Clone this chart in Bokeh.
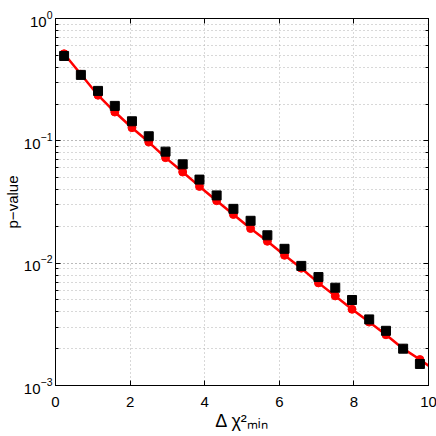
from bokeh.plotting import figure
from bokeh.models import LinearAxis, LogAxis, FixedTicker, LogTicker
from bokeh.embed import file_html
from bokeh.resources import INLINE

# Data
x_bins = [0.23, 0.68, 1.14, 1.59, 2.05, 2.50, 2.95, 3.41, 3.86, 4.32, 4.77,
          5.23, 5.68, 6.14, 6.59, 7.05, 7.50, 7.95, 8.41, 8.86, 9.32, 9.77]
p_black = [0.494, 0.346, 0.256, 0.193, 0.1445, 0.109, 0.0816, 0.0643, 0.0482,
           0.0358, 0.0278, 0.0222, 0.0169, 0.0131, 0.0095, 0.0077, 0.0063,
           0.0050, 0.00347, 0.00280, 0.00200, 0.00150]
p_red = [0.515, 0.350, 0.236, 0.172, 0.128, 0.0977, 0.0729, 0.0556, 0.0424,
         0.0324, 0.0250, 0.0192, 0.0151, 0.0116, 0.0091, 0.0069, 0.0054,
         0.0042, 0.0033, 0.0026, 0.0020, 0.00163]
x_end = [10.0]
p_end = [0.00145]
x_ticks = [0, 2, 4, 6, 8, 10]

FONT = "Liberation Sans"
GRID = "#b0b0b0"

p = figure(frame_width=373, frame_height=367, y_axis_type="log",
           x_range=(0, 10), y_range=(1e-3, 1),
           output_backend="svg", toolbar_location=None,
           min_border_left=50, min_border_right=10,
           min_border_top=18, min_border_bottom=48)
p.background_fill_color = "white"
p.border_fill_color = "white"
p.outline_line_color = "black"
p.outline_line_width = 1

# main axes
p.xaxis.ticker = FixedTicker(ticks=x_ticks)
for ax in (p.xaxis[0], p.yaxis[0]):
    ax.major_tick_in = 5
    ax.major_tick_out = 0
    ax.minor_tick_in = 3
    ax.minor_tick_out = 0
    ax.axis_line_color = "black"
    ax.major_label_text_font = FONT
    ax.major_label_text_font_size = "15px"
    ax.major_label_text_color = "black"
    ax.axis_label_text_font = FONT
    ax.axis_label_text_font_style = "normal"
    ax.axis_label_text_color = "black"
p.xaxis.minor_tick_line_color = None
p.xaxis.major_label_standoff = 11
p.yaxis.major_label_standoff = 3

p.xaxis.axis_label = "Δ χ²ₘᵢₙ"
p.xaxis.axis_label_text_font_size = "18px"
p.xaxis.axis_label_standoff = 1
p.yaxis.axis_label = "p−value"
p.yaxis.axis_label_text_font_size = "15px"
p.yaxis.axis_label_standoff = 0

# top / right box axes with ticks only (labels invisible)
top = LinearAxis(ticker=FixedTicker(ticks=x_ticks), major_tick_in=5, major_tick_out=0,
                 minor_tick_line_color=None, major_label_text_font_size="1px",
                 major_label_text_alpha=0, major_label_standoff=0)
right = LogAxis(ticker=LogTicker(), major_tick_in=5, major_tick_out=0,
                minor_tick_in=3, minor_tick_out=0,
                major_label_text_font_size="1px", major_label_text_alpha=0,
                major_label_standoff=0)
p.add_layout(top, "above")
p.add_layout(right, "right")

# grids
p.xgrid.ticker = FixedTicker(ticks=x_ticks)
p.xgrid.grid_line_color = GRID
p.xgrid.grid_line_dash = "1 3"
p.ygrid.grid_line_color = GRID
p.ygrid.grid_line_dash = "1 3"
p.ygrid.minor_grid_line_color = GRID
p.ygrid.minor_grid_line_dash = "1 3"

# data
p.line(x_bins + x_end, p_red + p_end, line_color="red", line_width=2.5)
p.scatter(x_bins, p_red, marker="circle", size=8, fill_color="red", line_color="red")
p.scatter(x_bins, p_black, marker="square", size=9, fill_color="black", line_color="black")

open("out.html", "w").write(file_html(p, INLINE))
